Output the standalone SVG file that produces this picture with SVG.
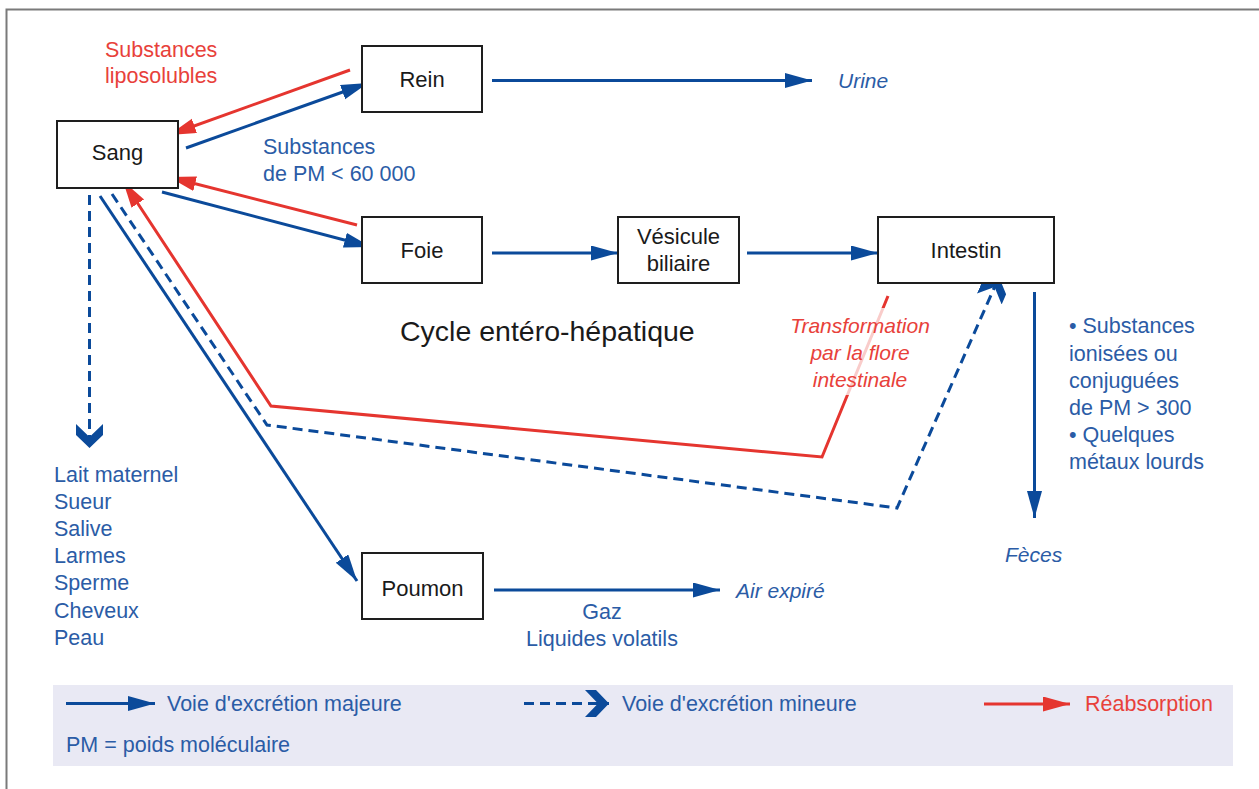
<svg xmlns="http://www.w3.org/2000/svg" width="1259" height="789" viewBox="0 0 1259 789">
  <style>
    .box { fill: #ffffff; stroke: #1e1e1e; stroke-width: 2; }
    .node { font-family: "Liberation Sans", Arial, sans-serif; font-size: 22px; fill: #1a1a1a; text-anchor: middle; }
    .bt { font-family: "Liberation Sans", Arial, sans-serif; font-size: 21.5px; fill: #2b5ca6; }
    .rt { font-family: "Liberation Sans", Arial, sans-serif; font-size: 21.5px; fill: #e8413a; }
    .it { font-style: italic; font-size: 21px; }
    .blue { fill: none; stroke: #0b4a9a; stroke-width: 3; }
    .dash { fill: none; stroke: #0b4a9a; stroke-width: 3; stroke-dasharray: 10 6; }
    .red { fill: none; stroke: #e5352f; stroke-width: 3; }
  </style>
  <defs>
    <marker id="ab" markerUnits="userSpaceOnUse" markerWidth="28" markerHeight="16" refX="27" refY="7.5" orient="auto">
      <path d="M0,0 L27,7.5 L0,15 z" fill="#0b4a9a"/>
    </marker>
    <marker id="ar" markerUnits="userSpaceOnUse" markerWidth="28" markerHeight="16" refX="27" refY="7.5" orient="auto">
      <path d="M0,0 L27,7.5 L0,15 z" fill="#e5352f"/>
    </marker>
    <marker id="ac" markerUnits="userSpaceOnUse" markerWidth="26" markerHeight="28" refX="24" refY="13.5" orient="auto">
      <path d="M0,0 L13,13.5 L0,27 L11,27 L24,13.5 L11,0 z" fill="#0b4a9a"/>
    </marker>
  </defs>

  <rect x="0" y="0" width="1259" height="789" fill="#ffffff"/>
  <path d="M6.5,789 L6.5,9.5 L1259,9.5" fill="none" stroke="#7a7a7a" stroke-width="2"/>

  <g id="connectors">
    <path class="red" d="M350,70 L169,135" marker-end="url(#ar)"/>
    <path class="blue" d="M186,148 L368,83" marker-end="url(#ab)"/>
    <path class="red" d="M357,225 L169,177" marker-end="url(#ar)"/>
    <path class="blue" d="M162,192 L371,247" marker-end="url(#ab)"/>
    <path class="blue" d="M492,80.5 L812,80.5" marker-end="url(#ab)"/>
    <path class="blue" d="M492,253 L618,253" marker-end="url(#ab)"/>
    <path class="blue" d="M747,253 L878,253" marker-end="url(#ab)"/>
    <path class="blue" d="M1034.5,292 L1034.5,518" marker-end="url(#ab)"/>
    <path class="blue" d="M494,590 L720,590" marker-end="url(#ab)"/>
    <path class="blue" d="M100,196 L357,581" marker-end="url(#ab)"/>
    <path class="dash" d="M89.5,195 L89.5,448" marker-end="url(#ac)"/>
    <path class="dash" d="M112,194 L267,425 L897,508 L999,277" marker-end="url(#ac)"/>
    <path class="red" d="M888,296 L822,457 L271,406 L123,181" marker-end="url(#ar)"/>
    <rect x="840" y="308" width="60" height="87" fill="#ffffff" opacity="0.75"/>
  </g>

  <g id="sang"><rect class="box" x="57" y="121" width="121" height="67"/><text class="node" x="117.5" y="160">Sang</text></g>
  <g id="rein"><rect class="box" x="362" y="46" width="120" height="66"/><text class="node" x="422" y="87">Rein</text></g>
  <g id="foie"><rect class="box" x="362" y="217" width="120" height="66"/><text class="node" x="422" y="258">Foie</text></g>
  <g id="vesicule"><rect class="box" x="618" y="217" width="121" height="66"/><text class="node" x="678.5" y="244">Vésicule</text><text class="node" x="678.5" y="271">biliaire</text></g>
  <g id="intestin"><rect class="box" x="878" y="217" width="176" height="66"/><text class="node" x="966" y="258">Intestin</text></g>
  <g id="poumon"><rect class="box" x="362" y="553" width="121" height="66"/><text class="node" x="422.5" y="596">Poumon</text></g>

  <g id="labels">
    <text class="rt" x="105" y="57">Substances</text>
    <text class="rt" x="105" y="83">liposolubles</text>
    <text class="bt" x="263" y="154">Substances</text>
    <text class="bt" x="263" y="181">de PM &lt; 60 000</text>
    <text class="bt it" x="838" y="88">Urine</text>
    <text x="400" y="341" style="font-family: 'Liberation Sans', Arial, sans-serif; font-size: 28.5px; fill: #1a1a1a;">Cycle entéro-hépatique</text>
    <text class="rt it" text-anchor="middle" x="860" y="333">Transformation</text>
    <text class="rt it" text-anchor="middle" x="860" y="360">par la flore</text>
    <text class="rt it" text-anchor="middle" x="860" y="387">intestinale</text>
    <text class="bt" x="1069" y="333">• Substances</text>
    <text class="bt" x="1069" y="361">ionisées ou</text>
    <text class="bt" x="1069" y="388">conjuguées</text>
    <text class="bt" x="1069" y="415">de PM &gt; 300</text>
    <text class="bt" x="1069" y="442">• Quelques</text>
    <text class="bt" x="1069" y="469">métaux lourds</text>
    <text class="bt it" x="1005" y="562">Fèces</text>
    <text class="bt it" x="736" y="598">Air expiré</text>
    <text class="bt" text-anchor="middle" x="602" y="619">Gaz</text>
    <text class="bt" text-anchor="middle" x="602" y="646">Liquides volatils</text>
    <text class="bt" x="54" y="482">Lait maternel</text>
    <text class="bt" x="54" y="509">Sueur</text>
    <text class="bt" x="54" y="536">Salive</text>
    <text class="bt" x="54" y="563">Larmes</text>
    <text class="bt" x="54" y="590">Sperme</text>
    <text class="bt" x="54" y="618">Cheveux</text>
    <text class="bt" x="54" y="645">Peau</text>
  </g>

  <g id="legend">
    <rect x="53" y="685" width="1180" height="81" fill="#e9e9f4"/>
    <path class="blue" d="M66,703.5 L155,703.5" marker-end="url(#ab)"/>
    <text class="bt" x="167" y="711">Voie d'excrétion majeure</text>
    <path class="dash" d="M524,703.5 L609,703.5" marker-end="url(#ac)"/>
    <text class="bt" x="622" y="711">Voie d'excrétion mineure</text>
    <path class="red" d="M984,704 L1070,704" marker-end="url(#ar)"/>
    <text class="rt" x="1085" y="711">Réabsorption</text>
    <text class="bt" x="66" y="752">PM = poids moléculaire</text>
  </g>
</svg>
